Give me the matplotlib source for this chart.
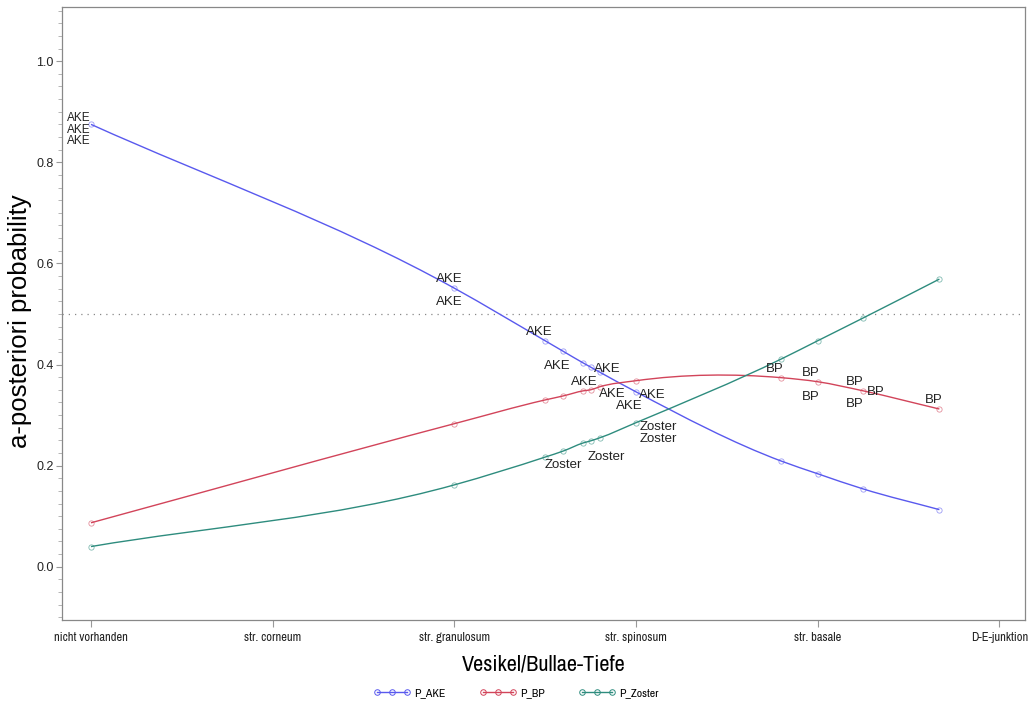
import numpy as np
import matplotlib
matplotlib.use('Agg')
import matplotlib.pyplot as plt
from matplotlib import font_manager
from matplotlib.path import Path
from matplotlib.patches import PathPatch
from matplotlib.lines import Line2D
from matplotlib.ticker import MultipleLocator

# Vesikel/Bullae-Tiefe (score) und a-posteriori Wahrscheinlichkeiten
depth = [0, 2, 2.5, 2.6, 2.71, 2.75, 2.8, 3, 3.8, 4, 4.25, 4.67]
p_ake = [0.875, 0.551, 0.447, 0.426, 0.403, 0.395, 0.385, 0.346, 0.209, 0.184, 0.154, 0.113]
p_bp = [0.087, 0.283, 0.330, 0.338, 0.348, 0.350, 0.356, 0.368, 0.374, 0.366, 0.348, 0.312]
p_zoster = [0.040, 0.162, 0.217, 0.229, 0.245, 0.249, 0.255, 0.285, 0.411, 0.447, 0.492, 0.569]

depth_labels = ['nicht vorhanden', 'str. corneum', 'str. granulosum',
                'str. spinosum', 'str. basale', 'D-E-junktion']

# Beobachtungs-Labels: Text, Tiefe, Kurve
obs_text = ['AKE', 'AKE', 'AKE', 'AKE', 'AKE', 'AKE', 'AKE', 'AKE', 'AKE', 'AKE',
            'AKE', 'AKE', 'Zoster', 'Zoster', 'Zoster', 'Zoster',
            'BP', 'BP', 'BP', 'BP', 'BP', 'BP', 'BP']
obs_depth = [0, 0, 0, 2, 2, 2.5, 2.6, 2.71, 2.75, 2.8, 3, 3,
             3, 3, 2.6, 2.8,
             3.8, 4, 4, 4.25, 4.25, 4.25, 4.67]
obs_curve = ['AKE'] * 12 + ['Zoster'] * 4 + ['BP'] * 7
# Versatz der Labels in Pixel (dx, dy nach unten)
obs_offset = [(-12, -6), (-12, 6), (-12, 17), (-5, -9), (-5, 14), (-6, -9), (-6, 15),
              (1, 19), (17, 2), (13, 22), (-7, 14), (16, 3),
              (22, 4), (22, 16), (0, 14), (7, 19),
              (-7, -9), (-7, -9), (-7, 15), (-8, -9), (-8, 13), (13, 1), (-6, -9)]

colors = {'AKE': '#5959ee', 'BP': '#d2445a', 'Zoster': '#2e8c7e'}
series = {'AKE': p_ake, 'BP': p_bp, 'Zoster': p_zoster}


def pick_font(candidates):
    """Erste installierte Schrift aus der Liste"""
    installed = {f.name for f in font_manager.fontManager.ttflist}
    for name in candidates:
        if name in installed:
            return [name, 'DejaVu Sans']
    return ['DejaVu Sans']


NARROW = pick_font(['Liberation Sans Narrow', 'Arial Narrow', 'Archivo Narrow',
                    'PT Sans Narrow', 'Roboto Condensed', 'Encode Sans Condensed',
                    'Liberation Sans'])
SANS = pick_font(['Liberation Sans', 'Arimo', 'Arial', 'Roboto'])
narrow_ok = NARROW[0] != 'Liberation Sans'


def smooth_path(x, y):
    """Kubische Hermite-Kurve durch die Punkte als Bezier-Pfad"""
    x = np.asarray(x, float)
    y = np.asarray(y, float)
    h = np.diff(x)
    d = np.diff(y) / h
    m = np.empty_like(y)
    m[0] = d[0]
    m[-1] = d[-1]
    for i in range(1, len(x) - 1):
        m[i] = (d[i - 1] * h[i] + d[i] * h[i - 1]) / (h[i - 1] + h[i])
    verts = [(x[0], y[0])]
    codes = [Path.MOVETO]
    for i in range(len(x) - 1):
        verts += [(x[i] + h[i] / 3, y[i] + m[i] * h[i] / 3),
                  (x[i + 1] - h[i] / 3, y[i + 1] - m[i + 1] * h[i] / 3),
                  (x[i + 1], y[i + 1])]
        codes += [Path.CURVE4] * 3
    return Path(verts, codes)


fig = plt.figure(figsize=(10.32, 7.06), dpi=100)
ax = fig.add_axes([0.060, 0.122, 0.933, 0.868])

for name in ['AKE', 'BP', 'Zoster']:
    c = colors[name]
    ax.add_patch(PathPatch(smooth_path(depth, series[name]), facecolor='none',
                           edgecolor=c, lw=1.0, zorder=2))
    ax.plot(depth, series[name], linestyle='none', marker='o', markersize=3.8,
            markerfacecolor='none', markeredgecolor=c, markeredgewidth=0.6,
            alpha=0.6, zorder=3)

ax.axhline(0.5, color='#888888', lw=0.9, linestyle=(0, (1, 4)), zorder=1)

for txt, xv, curve, (dx, dy) in zip(obs_text, obs_depth, obs_curve, obs_offset):
    yv = series[curve][depth.index(xv)]
    size = 8.5 if xv == 0 else 9.5
    ax.annotate(txt, (xv, yv), xytext=(dx * 0.72, -dy * 0.72), textcoords='offset points',
                ha='center', va='center', fontsize=size, family=SANS,
                color='#222222', zorder=4)

ax.set_xlim(-0.16, 5.14)
ax.set_xticks(range(len(depth_labels)))
ax.set_xticklabels(depth_labels, family=NARROW, fontsize=9 if narrow_ok else 6.5)
ax.yaxis.set_major_locator(MultipleLocator(0.2))
ax.yaxis.set_minor_locator(MultipleLocator(0.025))
ax.set_ylim(-0.105, 1.107)
ax.yaxis.set_major_formatter(lambda v, pos: f'{v:.1f}')
ax.tick_params(axis='both', which='major', length=5, width=0.8, color='#999999',
               labelcolor='#222222')
ax.tick_params(axis='x', which='major', pad=4)
ax.tick_params(axis='y', which='major', length=4, pad=2, labelsize=9)
ax.tick_params(axis='y', which='minor', length=3, width=0.6, color='#aaaaaa')
for lbl in ax.get_yticklabels():
    lbl.set_family(SANS)
for sp in ax.spines.values():
    sp.set_color('#888888')
    sp.set_linewidth(0.9)

ax.set_ylabel('a-posteriori probability', family=SANS, fontsize=18.5)
ax.yaxis.set_label_coords(-0.031, 0.487)
ax.set_xlabel('Vesikel/Bullae-Tiefe', family=NARROW, fontsize=16 if narrow_ok else 14,
              labelpad=8)

handles = [Line2D([0], [0], color=colors[n], lw=1.0, marker='o', markersize=4,
                  markerfacecolor='none', markeredgecolor=colors[n], markeredgewidth=0.7)
           for n in ['AKE', 'BP', 'Zoster']]
fig.legend(handles, ['P_AKE', 'P_BP', 'P_Zoster'], loc='center',
           bbox_to_anchor=(0.500, 0.018), ncol=3, frameon=False, numpoints=3,
           handlelength=3.1, handletextpad=0.3, columnspacing=2.9,
           prop={'family': NARROW, 'size': 8.5})

fig.savefig('out.png', dpi=100)
